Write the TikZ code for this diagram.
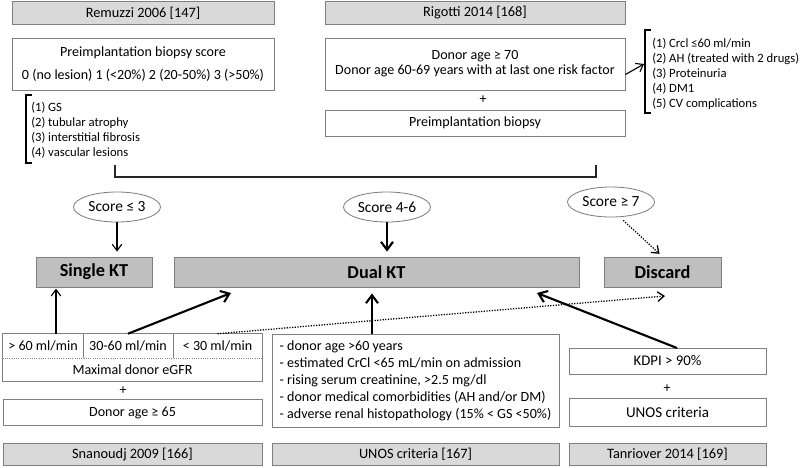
\documentclass[tikz,border=0pt]{standalone}
\usepackage{fontspec}
\setmainfont{Carlito}
\usetikzlibrary{shapes.geometric,arrows.meta}
\definecolor{hdrgray}{HTML}{D9D9D9}
\definecolor{resgray}{HTML}{BFBFBF}
\definecolor{edgegray}{HTML}{7F7F7F}
\begin{document}
\begin{tikzpicture}[x=0.25mm,y=-0.25mm,
	every node/.style={font=\fontsize{10}{12}\selectfont},
	hdr/.style={draw=edgegray,line width=0.6pt,fill=hdrgray,minimum height=5.6mm,inner sep=0pt,
		font=\fontsize{10.2}{12}\selectfont},
	box/.style={draw=edgegray,line width=0.6pt,fill=white,inner sep=0pt},
	res/.style={draw=edgegray,line width=0.6pt,fill=resgray,minimum height=7.5mm,inner sep=0pt,
		font=\fontsize{13}{15}\selectfont\bfseries},
	score/.style={draw=edgegray,line width=0.6pt,ellipse,minimum width=21.75mm,minimum height=7.5mm,inner sep=0pt,
		font=\fontsize{11}{13}\selectfont},
	lst/.style={align=left,anchor=north west,inner sep=0pt,font=\fontsize{9}{10.7}\selectfont},
	thinarr/.style={-{Straight Barb[length=1.6mm,width=2.4mm]},line width=0.8pt},
	thickarr/.style={-{Straight Barb[length=2mm,width=3mm]},line width=1.5pt},
	dotarr/.style={-{Straight Barb[length=1.6mm,width=2.4mm]},line width=0.9pt,densely dotted}]
\useasboundingbox (0,0) rectangle (800,467);

% top: scores
\draw 	(143,13) node[hdr,minimum width=65.5mm](remuzzi){Remuzzi 2006 [147]}
		(475,13) node[hdr,minimum width=75mm](rigotti){Rigotti 2014 [168]};
\draw 	(143,64) node[box,minimum width=65.5mm,minimum height=13mm,align=center](biopsyscore)
			{Preimplantation biopsy score\\[4pt]0 (no lesion) 1 (<20\%) 2 (20-50\%) 3 (>50\%)}
		(475,64) node[box,minimum width=75mm,minimum height=13mm,align=center](donorage)
			{Donor age ≥ 70\\[-1.3pt]Donor age 60-69 years with at last one risk factor}
		(483,100) node(plusa){+}
		(475,123) node[box,minimum width=75mm,minimum height=6.5mm](biopsy){Preimplantation biopsy};
\draw 	(31,101.5) node[lst](lesions){(1) GS\\(2) tubular atrophy\\(3) interstitial fibrosis\\(4) vascular lesions}
		(652,38) node[lst](risks){(1) Crcl ≤60 ml/min\\(2) AH (treated with 2 drugs)\\(3) Proteinuria\\(4) DM1\\(5) CV complications};
\draw[line width=0.9pt] (32,95) -- (26,95) -- (26,163) -- (32,163);
\draw[line width=0.9pt] (651,30) -- (645,30) -- (645,113) -- (651,113);
\draw[line width=1pt,black!85] (115,165) -- (115,177) -- (596,177) -- (596,165);
\coordinate (rb) at (644,64);
\path (donorage.-4) edge[thinarr] (rb);

% middle: decision
\draw 	(117,207) node[score](s3){Score ≤ 3}
		(387,207) node[score](s46){Score 4-6}
		(611,202) node[score](s7){Score ≥ 7};
\draw 	(94,272) node[res,minimum width=29mm](single){Single KT}
		(376.5,272) node[res,minimum width=101.25mm](dual){Dual KT}
		(662.5,272) node[res,minimum width=29.25mm](discard){Discard};
\path
	(s3.south) edge[thinarr,shorten >=1.25mm] (s3.south |- single.north)
	(s46.south) edge[thickarr,shorten >=1.25mm] (s46.south |- dual.north)
	(s7.-60) edge[dotarr,shorten <=1.2mm,shorten >=1mm] (discard.north);

% bottom: criteria
\draw 	(43,346) node[minimum width=20mm,minimum height=6mm,inner sep=0pt](c1){> 60 ml/min}
		(128,346) node[minimum width=22.5mm,minimum height=6mm,inner sep=0pt](c2){30-60 ml/min}
		(217.5,346) node[minimum width=22.25mm,minimum height=6mm,inner sep=0pt](c3){< 30 ml/min}
		(132.5,369.5) node[minimum width=64.75mm,minimum height=5.75mm,inner sep=0pt](maxegfr){Maximal donor eGFR};
\draw[edgegray,line width=0.6pt] (c1.north west) rectangle (maxegfr.south east);
\draw[edgegray,line width=0.6pt] (c1.north east) -- (c1.south east) (c2.north east) -- (c2.south east);
\draw[edgegray,line width=0.6pt,densely dotted] (c1.south west) -- (c3.south east);
\draw 	(123,391) node(plusb){+}
		(132.5,412.5) node[box,minimum width=64.75mm,minimum height=6.5mm](age65){Donor age ≥ 65}
		(415.5,380.5) node[box,minimum width=71.75mm,minimum height=23.25mm,align=left,font=\fontsize{10}{12.1}\selectfont](unos)
			{- donor age >60 years\\- estimated CrCl <65 mL/min on admission\\- rising serum creatinine, >2.5 mg/dl\\- donor medical comorbidities (AH and/or DM)\\- adverse renal histopathology (15\% < GS <50\%)}
		(667.5,361) node[box,minimum width=49.25mm,minimum height=6.5mm,font=\fontsize{10.5}{12}\selectfont](kdpi){KDPI > 90\%}
		(667,389) node(plusc){+}
		(667.5,412) node[box,minimum width=49.25mm,minimum height=7mm,font=\fontsize{10.7}{12}\selectfont](unoscrit){UNOS criteria};
\draw 	(132.5,454.5) node[hdr,minimum width=64.75mm](snanoudj){Snanoudj 2009 [166]}
		(415.5,454.5) node[hdr,minimum width=71.75mm](unosref){UNOS criteria [167]}
		(667.5,454.5) node[hdr,minimum width=49.25mm](tanriover){Tanriover 2014 [169]};
\coordinate (g1) at (56,334);
\coordinate (d1) at (231,293);
\coordinate (d3) at (665,296);
\coordinate (u1) at (372,334);
\coordinate (k1) at (677,348);
\coordinate (d2) at (537,293);
\path
	(g1) edge[thinarr,shorten >=0.3mm] (g1 |- single.south)
	(c2.north) edge[thickarr] (d1)
	(c3.north) edge[dotarr] (d3)
	(u1) edge[thickarr,shorten >=1.5mm] (u1 |- dual.south)
	(k1) edge[thickarr] (d2);
\end{tikzpicture}
\end{document}
